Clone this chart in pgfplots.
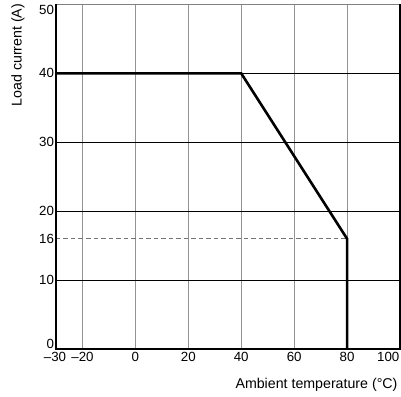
\documentclass[border=0pt]{standalone}
\usepackage{fontspec}
\setmainfont{Liberation Sans}
\usepackage{pgfplots}
\pgfplotsset{compat=1.18}
\begin{document}
\begin{tikzpicture}
\begin{axis}[
  name=ax,
  scale only axis,
  width=344pt, height=344.5pt,
  xmin=-30, xmax=100, ymin=0, ymax=50,
  xtick={-30,-20,0,20,40,60,80,100},
  xticklabels={\hspace*{-2pt}\textendash30,\textendash20,0,20,40,60,80,{}},
  ytick={0,10,20,30,40,50},
  yticklabels={\raisebox{1pt}[0pt][0pt]{0},10,20,30,40,\raisebox{-10pt}[0pt][0pt]{50}},
  extra y ticks={16},
  extra y tick labels={16},
  extra y tick style={grid=none},
  extra x ticks={100},
  extra x tick labels={100},
  extra x tick style={grid=none, xticklabel style={anchor=north east, xshift=1.5pt}},
  major tick length=0pt,
  xmajorgrids, ymajorgrids,
  x grid style={gray!85, line width=1pt},
  y grid style={black, line width=0.8pt},
  axis line style={black, line width=1pt},
  tick label style={font=\fontsize{13.3}{15}\selectfont},
  /pgf/number format/assume math mode=true,
  xticklabel style={yshift=-1pt, inner sep=2pt},
  yticklabel style={xshift=1.5pt},
  xlabel={Ambient temperature (\textdegree C)},
  ylabel={Load current (A)},
  label style={font=\fontsize{14.2}{16}\selectfont},
  xlabel style={at={(rel axis cs:1,0)}, anchor=east, yshift=-36pt, xshift=1pt},
  ylabel style={at={(rel axis cs:0,0.853)}, anchor=center, yshift=38pt},
  clip=false,
]
\addplot[black!55, line width=1pt, dash pattern=on 4.5pt off 3pt] coordinates {(-30,16) (80,16)};
\addplot[black, line width=2.6pt, line join=miter] coordinates {(-30,40) (40,40) (80,16) (80,0)};
\draw[gray, line width=1.2pt] (rel axis cs:0,1) -- (rel axis cs:1,1);
\draw[black, line width=1.4pt] (rel axis cs:1,0) -- (rel axis cs:1,1);
\draw[black, line width=2pt] (rel axis cs:0,0) -- (rel axis cs:0,1);
\draw[black, line width=2pt] (rel axis cs:0,0) -- (rel axis cs:1,0);
\end{axis}
\pgfresetboundingbox
\path ([xshift=-56pt,yshift=-47pt]ax.south west) rectangle ([xshift=1pt,yshift=4.5pt]ax.north east);
\end{tikzpicture}
\end{document}
